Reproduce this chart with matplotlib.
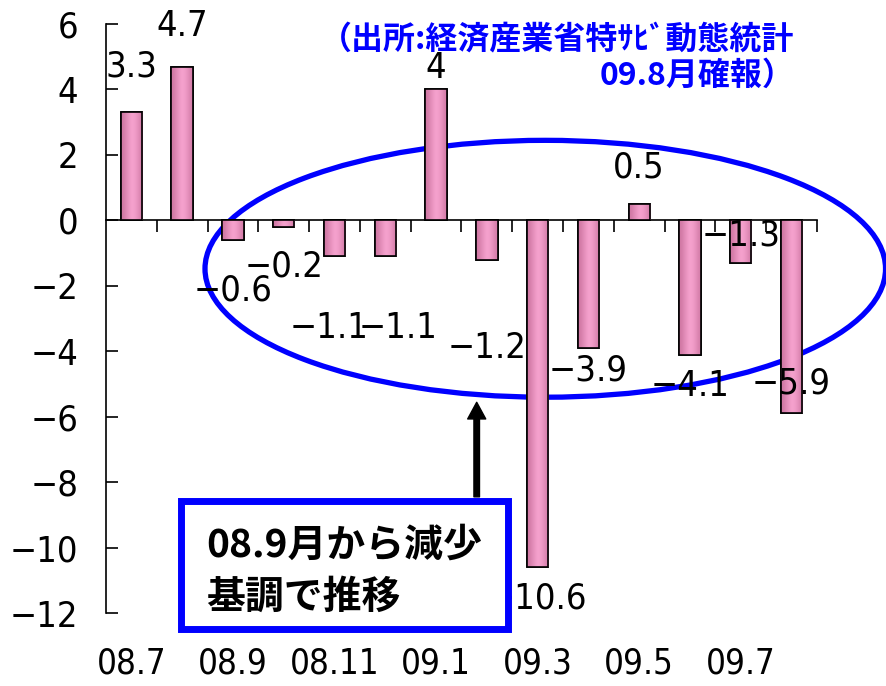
import numpy as np
import matplotlib
matplotlib.use("Agg")
import matplotlib.pyplot as plt
from matplotlib.patches import Ellipse, Rectangle

plt.rcParams['font.family'] = ['DejaVu Sans', 'Noto Sans CJK JP']
plt.rcParams['font.stretch'] = 'condensed'
JP = ['Noto Sans CJK JP', 'DejaVu Sans']

# data
months = ["08.7", "08.8", "08.9", "08.10", "08.11", "08.12", "09.1",
          "09.2", "09.3", "09.4", "09.5", "09.6", "09.7", "09.8"]
values = [3.3, 4.7, -0.6, -0.2, -1.1, -1.1, 4, -1.2, -10.6, -3.9, 0.5, -4.1, -1.3, -5.9]
tick_labels = months[::2]

# where each value label sits relative to the bar end (layout only)
label_dy = [1.4, 1.25, -1.55, -1.2, -2.2, -2.2, 0.65, -2.7, -0.95, -0.7, 1.1, -0.95, 0.85, 0.9]
label_dx = [0, 0, 0, 0, -0.1, 0.25, 0, 0, 0, 0, 0, 0, 0, 0]

fig = plt.figure(figsize=(8.86, 6.86), dpi=100)
ax = fig.add_axes([0.1196, 0.1064, 0.8025, 0.8586])

x = np.arange(len(values)) + 0.5
bars = ax.bar(x, values, width=0.42, color='#EC8FBF', edgecolor='black', linewidth=1.2, zorder=3)

# horizontal shading on bars
grad = np.array([0.0, 0.35, 0.7, 1.0, 0.85, 0.55, 0.15]).reshape(1, -1)
cmap = matplotlib.colors.LinearSegmentedColormap.from_list("pk", ['#CF77A3', '#F7A3CF'])
for b in bars:
    x0, y0 = b.get_x(), b.get_y()
    w, h = b.get_width(), b.get_height()
    im = ax.imshow(grad, cmap=cmap, aspect='auto', interpolation='bicubic',
                   extent=(x0, x0 + w, y0, y0 + h), zorder=3.1)
    im.set_clip_path(b)
    b2 = Rectangle((x0, y0), w, h, fill=False, edgecolor='black', linewidth=1.2, zorder=3.2)
    ax.add_patch(b2)

for xi, v, dx, dy in zip(x, values, label_dx, label_dy):
    ax.text(xi + dx, v + dy, f"{v:g}".replace('-', '\u2212'), ha='center', va='center',
            fontsize=26, zorder=4)

ax.set_xlim(0, 14)
ax.set_ylim(-12, 6)
ax.set_yticks(range(-12, 7, 2))
ax.tick_params(axis='y', direction='in', length=8.6, width=1.2, labelsize=26, pad=20)
ax.set_xticks(x[::2])
ax.set_xticklabels(tick_labels)
ax.tick_params(axis='x', length=0, labelsize=25, pad=24)
for s in ['top', 'right', 'bottom']:
    ax.spines[s].set_visible(False)
ax.spines['left'].set_linewidth(1.2)

# zero line with category ticks
zero = ax.secondary_xaxis(12 / 18)
zero.set_xticks(range(1, 15))
zero.set_xticklabels([])
zero.tick_params(direction='in', length=8.6, width=1.2)
zero.spines['bottom'].set_linewidth(1.2)
zero.spines['top'].set_linewidth(1.2)

# highlight ellipse
ell = Ellipse((8.65, -1.48), 13.4, 7.85, fill=False, edgecolor='#0000FF',
              linewidth=3.8, zorder=2, clip_on=False)
ax.add_patch(ell)

# arrow and note box
ax.annotate('', xy=(7.30, -5.56), xytext=(7.30, -8.45),
            arrowprops=dict(facecolor='black', edgecolor='black', width=4,
                            headwidth=13, headlength=12), zorder=5, annotation_clip=False)
box = Rectangle((1.47, -12.48), 6.45, 3.91, facecolor='white', edgecolor='#0000FF',
                linewidth=5, zorder=6, clip_on=False)
ax.add_patch(box)
ax.text(1.97, -9.93, "08.9月から減少", family=JP, fontsize=28, fontweight='bold',
        ha='left', va='center', zorder=7)
ax.text(1.97, -11.52, "基調で推移", family=JP, fontsize=28, fontweight='bold',
        ha='left', va='center', zorder=7)

# source note
ax.text(13.56, 5.5, "（出所:経済産業省特ｻﾋﾞ動態統計", family=JP, fontsize=23,
        fontweight='bold', color='#0000FF', ha='right', va='center', zorder=7)
ax.text(13.56, 4.43, "09.8月確報）", family=JP, fontsize=23,
        fontweight='bold', color='#0000FF', ha='right', va='center', zorder=7)

fig.savefig("out.png", dpi=100)
